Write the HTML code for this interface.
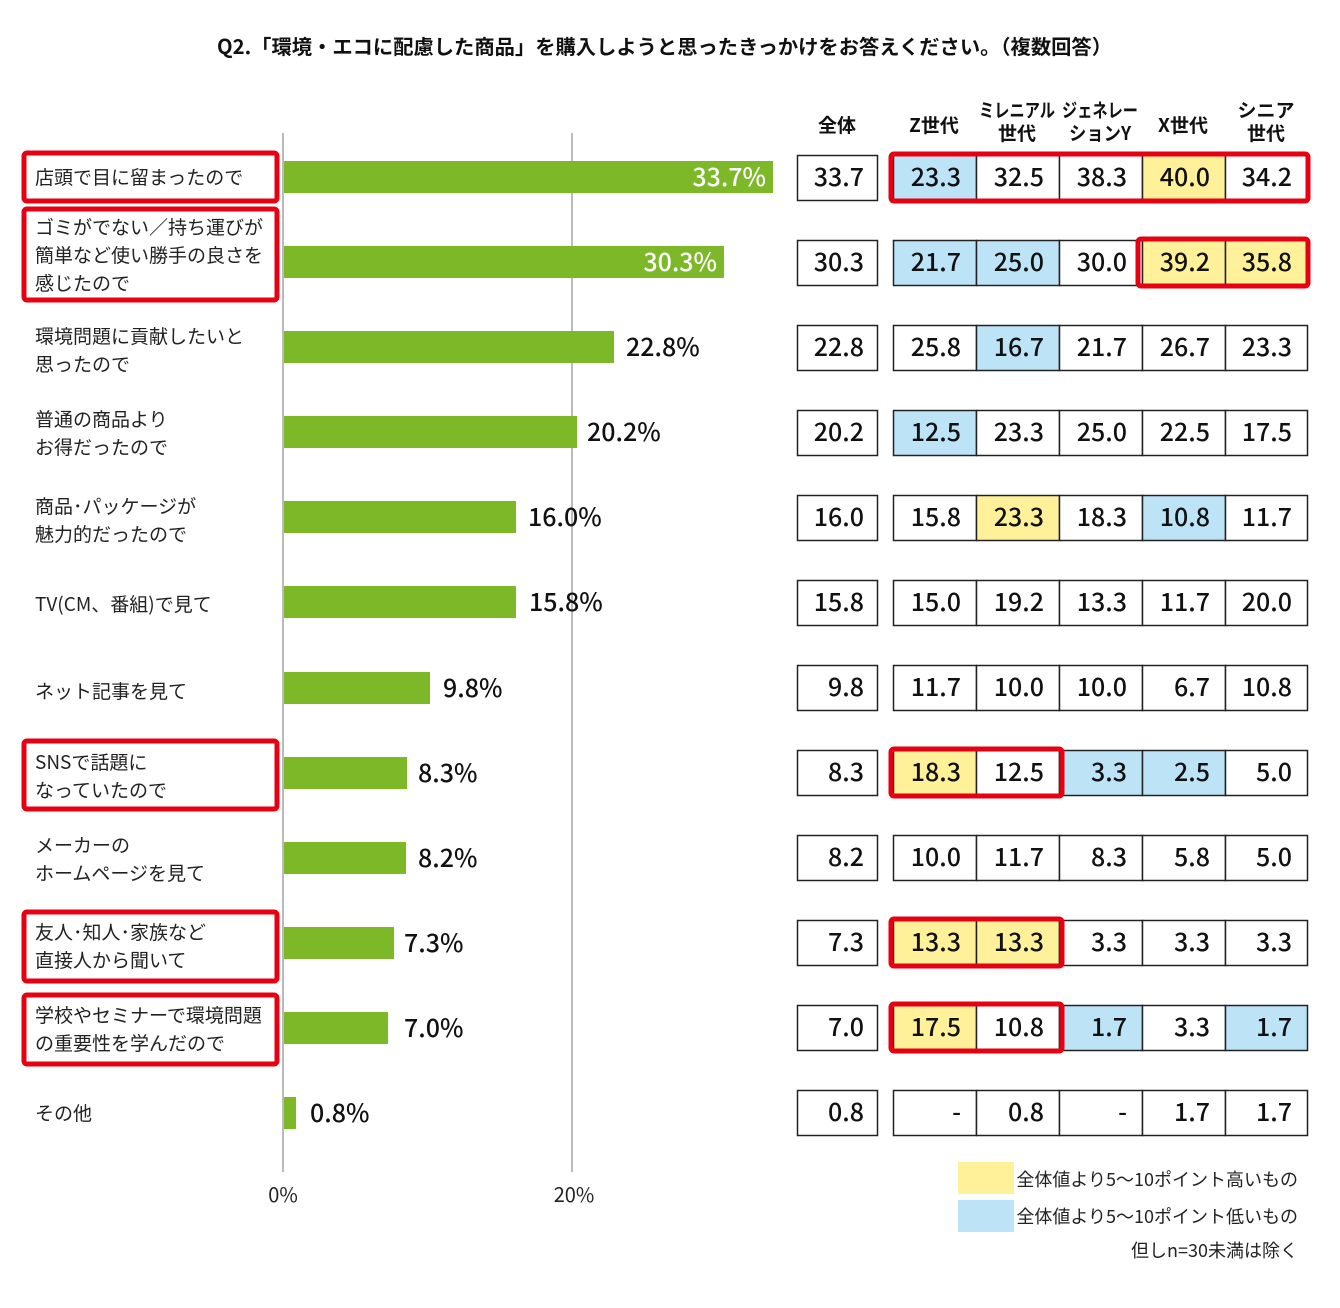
<!DOCTYPE html>
<html><head><meta charset="utf-8"><style>
html,body{margin:0;padding:0;background:#fff;}
svg{display:block;font-family:"Liberation Sans","Noto Sans CJK JP",sans-serif;}
.l{font-family:"Noto Sans CJK JP",sans-serif;font-size:19px;fill:#222;}
.n{font-family:"Noto Sans CJK JP",sans-serif;font-size:25px;font-weight:500;fill:#111;}
.h{font-family:"Noto Sans CJK JP",sans-serif;font-size:19px;font-weight:700;fill:#111;}
.c rect{stroke:#222;stroke-width:1.5;}
.w{fill:#fff}.y{fill:#fff09a}.b{fill:#bde3f7}
.c text{font-family:"Noto Sans CJK JP",sans-serif;font-size:25px;font-weight:500;fill:#111;text-anchor:end;}
</style></head><body>
<svg width="1340" height="1308" viewBox="0 0 1340 1308" xmlns="http://www.w3.org/2000/svg">
<text x="217" y="54" textLength="895" lengthAdjust="spacingAndGlyphs" font-family="Noto Sans CJK JP, sans-serif" font-size="20" font-weight="700" fill="#111">Q2.「環境・エコに配慮した商品」を購入しようと思ったきっかけをお答えください。（複数回答）</text>
<line x1="283" y1="133" x2="283" y2="1172" stroke="#bbb" stroke-width="2"/>
<line x1="572" y1="133" x2="572" y2="1172" stroke="#bbb" stroke-width="2"/>
<text x="283" y="1202" text-anchor="middle" class="l" style="font-size:20px">0%</text>
<text x="574" y="1202" text-anchor="middle" class="l" style="font-size:20px">20%</text>
<g fill="#7db829">
<rect x="284" y="161" width="489" height="32"/>
<rect x="284" y="246" width="440" height="32"/>
<rect x="284" y="331" width="330" height="32"/>
<rect x="284" y="416" width="293" height="32"/>
<rect x="284" y="501" width="232" height="32"/>
<rect x="284" y="586" width="232" height="32"/>
<rect x="284" y="672" width="146" height="32"/>
<rect x="284" y="757" width="123" height="32"/>
<rect x="284" y="842" width="122" height="32"/>
<rect x="284" y="927" width="110" height="32"/>
<rect x="284" y="1012" width="104" height="32"/>
<rect x="284" y="1097" width="12" height="32"/>
</g>
<g class="n">
<text x="766" y="186" text-anchor="end" style="fill:#fff">33.7%</text>
<text x="717" y="271" text-anchor="end" style="fill:#fff">30.3%</text>
<text x="626" y="356">22.8%</text>
<text x="587" y="441">20.2%</text>
<text x="528" y="526">16.0%</text>
<text x="529" y="611">15.8%</text>
<text x="443" y="697">9.8%</text>
<text x="418" y="782">8.3%</text>
<text x="418" y="867">8.2%</text>
<text x="404" y="952">7.3%</text>
<text x="404" y="1037">7.0%</text>
<text x="310" y="1122">0.8%</text>
</g>
<g class="l">
<text x="35" y="184">店頭で目に留まったので</text>
<text x="35" y="234">ゴミがでない／持ち運びが</text>
<text x="35" y="262">簡単など使い勝手の良さを</text>
<text x="35" y="290">感じたので</text>
<text x="35" y="343">環境問題に貢献したいと</text>
<text x="35" y="371">思ったので</text>
<text x="35" y="426">普通の商品より</text>
<text x="35" y="454">お得だったので</text>
<text x="35" y="513">商品･パッケージが</text>
<text x="35" y="541">魅力的だったので</text>
<text x="35" y="611">TV(CM、番組)で見て</text>
<text x="35" y="698">ネット記事を見て</text>
<text x="35" y="769">SNSで話題に</text>
<text x="35" y="797">なっていたので</text>
<text x="35" y="852">メーカーの</text>
<text x="35" y="880">ホームページを見て</text>
<text x="35" y="939">友人･知人･家族など</text>
<text x="35" y="967">直接人から聞いて</text>
<text x="35" y="1022">学校やセミナーで環境問題</text>
<text x="35" y="1050">の重要性を学んだので</text>
<text x="35" y="1120">その他</text>
</g>
<g fill="none" stroke="#e60012" stroke-width="5">
<rect x="24" y="153" width="253" height="48" rx="3"/>
<rect x="24" y="209" width="253" height="91" rx="3"/>
<rect x="24" y="741" width="253" height="68" rx="3"/>
<rect x="24" y="912" width="253" height="69" rx="3"/>
<rect x="24" y="995" width="253" height="69" rx="3"/>
</g>
<g class="h" text-anchor="middle">
<text x="837" y="132">全体</text>
<text x="934" y="132">Z世代</text>
<text x="1017" y="117" textLength="76" lengthAdjust="spacingAndGlyphs">ミレニアル</text><text x="1017" y="140">世代</text>
<text x="1100" y="117" textLength="76" lengthAdjust="spacingAndGlyphs">ジェネレー</text><text x="1100" y="140" textLength="62" lengthAdjust="spacingAndGlyphs">ションY</text>
<text x="1183" y="132">X世代</text>
<text x="1266" y="117">シニア</text><text x="1266" y="140">世代</text>
</g>

<g class="c">
<g transform="translate(0,155)"><rect class="w" x="797.5" y="0.5" width="80" height="45"/><text x="864" y="31">33.7</text>
<rect class="b" x="893.5" y="0.5" width="83" height="45"/><text x="961" y="31">23.3</text>
<rect class="w" x="976.5" y="0.5" width="83" height="45"/><text x="1044" y="31">32.5</text>
<rect class="w" x="1059.5" y="0.5" width="83" height="45"/><text x="1127" y="31">38.3</text>
<rect class="y" x="1142.5" y="0.5" width="83" height="45"/><text x="1210" y="31">40.0</text>
<rect class="w" x="1225.5" y="0.5" width="82" height="45"/><text x="1292" y="31">34.2</text></g>

<g transform="translate(0,240)"><rect class="w" x="797.5" y="0.5" width="80" height="45"/><text x="864" y="31">30.3</text>
<rect class="b" x="893.5" y="0.5" width="83" height="45"/><text x="961" y="31">21.7</text>
<rect class="b" x="976.5" y="0.5" width="83" height="45"/><text x="1044" y="31">25.0</text>
<rect class="w" x="1059.5" y="0.5" width="83" height="45"/><text x="1127" y="31">30.0</text>
<rect class="y" x="1142.5" y="0.5" width="83" height="45"/><text x="1210" y="31">39.2</text>
<rect class="y" x="1225.5" y="0.5" width="82" height="45"/><text x="1292" y="31">35.8</text></g>

<g transform="translate(0,325)"><rect class="w" x="797.5" y="0.5" width="80" height="45"/><text x="864" y="31">22.8</text>
<rect class="w" x="893.5" y="0.5" width="83" height="45"/><text x="961" y="31">25.8</text>
<rect class="b" x="976.5" y="0.5" width="83" height="45"/><text x="1044" y="31">16.7</text>
<rect class="w" x="1059.5" y="0.5" width="83" height="45"/><text x="1127" y="31">21.7</text>
<rect class="w" x="1142.5" y="0.5" width="83" height="45"/><text x="1210" y="31">26.7</text>
<rect class="w" x="1225.5" y="0.5" width="82" height="45"/><text x="1292" y="31">23.3</text></g>

<g transform="translate(0,410)"><rect class="w" x="797.5" y="0.5" width="80" height="45"/><text x="864" y="31">20.2</text>
<rect class="b" x="893.5" y="0.5" width="83" height="45"/><text x="961" y="31">12.5</text>
<rect class="w" x="976.5" y="0.5" width="83" height="45"/><text x="1044" y="31">23.3</text>
<rect class="w" x="1059.5" y="0.5" width="83" height="45"/><text x="1127" y="31">25.0</text>
<rect class="w" x="1142.5" y="0.5" width="83" height="45"/><text x="1210" y="31">22.5</text>
<rect class="w" x="1225.5" y="0.5" width="82" height="45"/><text x="1292" y="31">17.5</text></g>

<g transform="translate(0,495)"><rect class="w" x="797.5" y="0.5" width="80" height="45"/><text x="864" y="31">16.0</text>
<rect class="w" x="893.5" y="0.5" width="83" height="45"/><text x="961" y="31">15.8</text>
<rect class="y" x="976.5" y="0.5" width="83" height="45"/><text x="1044" y="31">23.3</text>
<rect class="w" x="1059.5" y="0.5" width="83" height="45"/><text x="1127" y="31">18.3</text>
<rect class="b" x="1142.5" y="0.5" width="83" height="45"/><text x="1210" y="31">10.8</text>
<rect class="w" x="1225.5" y="0.5" width="82" height="45"/><text x="1292" y="31">11.7</text></g>

<g transform="translate(0,580)"><rect class="w" x="797.5" y="0.5" width="80" height="45"/><text x="864" y="31">15.8</text>
<rect class="w" x="893.5" y="0.5" width="83" height="45"/><text x="961" y="31">15.0</text>
<rect class="w" x="976.5" y="0.5" width="83" height="45"/><text x="1044" y="31">19.2</text>
<rect class="w" x="1059.5" y="0.5" width="83" height="45"/><text x="1127" y="31">13.3</text>
<rect class="w" x="1142.5" y="0.5" width="83" height="45"/><text x="1210" y="31">11.7</text>
<rect class="w" x="1225.5" y="0.5" width="82" height="45"/><text x="1292" y="31">20.0</text></g>

<g transform="translate(0,665)"><rect class="w" x="797.5" y="0.5" width="80" height="45"/><text x="864" y="31">9.8</text>
<rect class="w" x="893.5" y="0.5" width="83" height="45"/><text x="961" y="31">11.7</text>
<rect class="w" x="976.5" y="0.5" width="83" height="45"/><text x="1044" y="31">10.0</text>
<rect class="w" x="1059.5" y="0.5" width="83" height="45"/><text x="1127" y="31">10.0</text>
<rect class="w" x="1142.5" y="0.5" width="83" height="45"/><text x="1210" y="31">6.7</text>
<rect class="w" x="1225.5" y="0.5" width="82" height="45"/><text x="1292" y="31">10.8</text></g>

<g transform="translate(0,750)"><rect class="w" x="797.5" y="0.5" width="80" height="45"/><text x="864" y="31">8.3</text>
<rect class="y" x="893.5" y="0.5" width="83" height="45"/><text x="961" y="31">18.3</text>
<rect class="w" x="976.5" y="0.5" width="83" height="45"/><text x="1044" y="31">12.5</text>
<rect class="b" x="1059.5" y="0.5" width="83" height="45"/><text x="1127" y="31">3.3</text>
<rect class="b" x="1142.5" y="0.5" width="83" height="45"/><text x="1210" y="31">2.5</text>
<rect class="w" x="1225.5" y="0.5" width="82" height="45"/><text x="1292" y="31">5.0</text></g>

<g transform="translate(0,835)"><rect class="w" x="797.5" y="0.5" width="80" height="45"/><text x="864" y="31">8.2</text>
<rect class="w" x="893.5" y="0.5" width="83" height="45"/><text x="961" y="31">10.0</text>
<rect class="w" x="976.5" y="0.5" width="83" height="45"/><text x="1044" y="31">11.7</text>
<rect class="w" x="1059.5" y="0.5" width="83" height="45"/><text x="1127" y="31">8.3</text>
<rect class="w" x="1142.5" y="0.5" width="83" height="45"/><text x="1210" y="31">5.8</text>
<rect class="w" x="1225.5" y="0.5" width="82" height="45"/><text x="1292" y="31">5.0</text></g>

<g transform="translate(0,920)"><rect class="w" x="797.5" y="0.5" width="80" height="45"/><text x="864" y="31">7.3</text>
<rect class="y" x="893.5" y="0.5" width="83" height="45"/><text x="961" y="31">13.3</text>
<rect class="y" x="976.5" y="0.5" width="83" height="45"/><text x="1044" y="31">13.3</text>
<rect class="w" x="1059.5" y="0.5" width="83" height="45"/><text x="1127" y="31">3.3</text>
<rect class="w" x="1142.5" y="0.5" width="83" height="45"/><text x="1210" y="31">3.3</text>
<rect class="w" x="1225.5" y="0.5" width="82" height="45"/><text x="1292" y="31">3.3</text></g>

<g transform="translate(0,1005)"><rect class="w" x="797.5" y="0.5" width="80" height="45"/><text x="864" y="31">7.0</text>
<rect class="y" x="893.5" y="0.5" width="83" height="45"/><text x="961" y="31">17.5</text>
<rect class="w" x="976.5" y="0.5" width="83" height="45"/><text x="1044" y="31">10.8</text>
<rect class="b" x="1059.5" y="0.5" width="83" height="45"/><text x="1127" y="31">1.7</text>
<rect class="w" x="1142.5" y="0.5" width="83" height="45"/><text x="1210" y="31">3.3</text>
<rect class="b" x="1225.5" y="0.5" width="82" height="45"/><text x="1292" y="31">1.7</text></g>

<g transform="translate(0,1090)"><rect class="w" x="797.5" y="0.5" width="80" height="45"/><text x="864" y="31">0.8</text>
<rect class="w" x="893.5" y="0.5" width="83" height="45"/><text x="961" y="31">-</text>
<rect class="w" x="976.5" y="0.5" width="83" height="45"/><text x="1044" y="31">0.8</text>
<rect class="w" x="1059.5" y="0.5" width="83" height="45"/><text x="1127" y="31">-</text>
<rect class="w" x="1142.5" y="0.5" width="83" height="45"/><text x="1210" y="31">1.7</text>
<rect class="w" x="1225.5" y="0.5" width="82" height="45"/><text x="1292" y="31">1.7</text></g>
</g>

<g fill="none" stroke="#e60012" stroke-width="5">
<rect x="891" y="154" width="417" height="47" rx="3"/>
<rect x="1138" y="239" width="170" height="47" rx="3"/>
<rect x="891" y="749" width="171" height="47" rx="3"/>
<rect x="891" y="919" width="171" height="47" rx="3"/>
<rect x="891" y="1004" width="171" height="47" rx="3"/>
</g>

<rect x="958" y="1162" width="56" height="32" fill="#fff09a"/>
<rect x="958" y="1200" width="56" height="32" fill="#bde3f7"/>
<g class="l" style="font-size:18px" text-anchor="end">
<text x="1298" y="1186">全体値より5～10ポイント高いもの</text>
<text x="1298" y="1223">全体値より5～10ポイント低いもの</text>
<text x="1298" y="1257">但しn=30未満は除く</text>
</g>
</svg>
</body></html>
